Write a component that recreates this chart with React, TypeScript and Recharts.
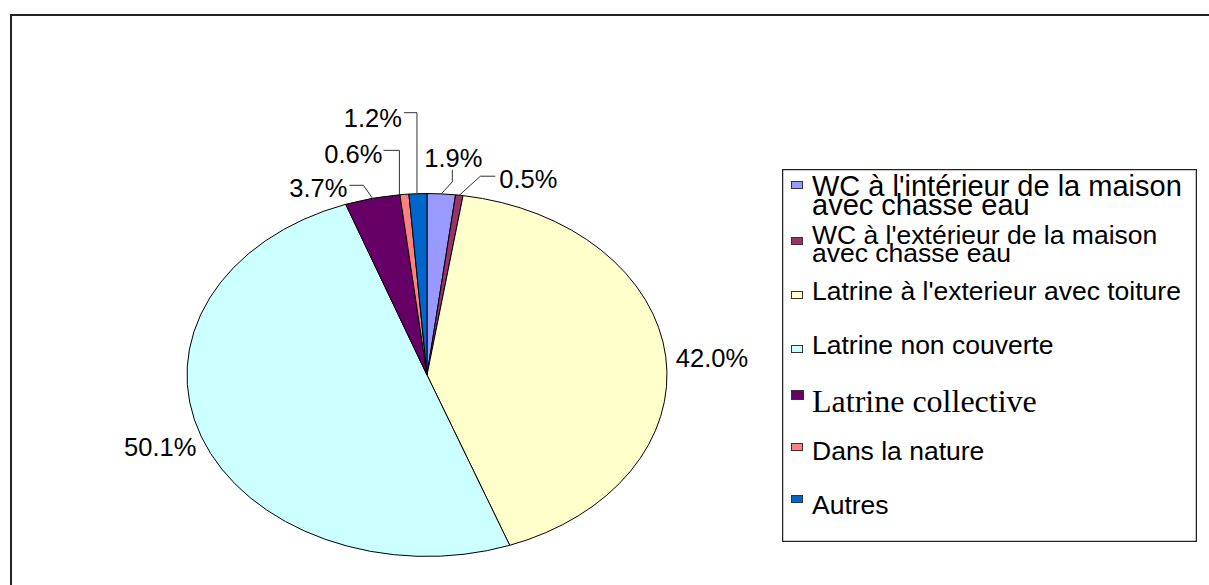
import React from 'react'
import { PieChart, Pie, Cell, Legend } from 'recharts'

// categories, in the order the slices run clockwise from 12 o'clock
const CATEGORIES = [
    "WC à l'intérieur de la maison avec chasse eau",
    "WC à l'extérieur de la maison avec chasse eau",
    "Latrine à l'exterieur avec toiture",
    'Latrine non couverte',
    'Latrine collective',
    'Dans la nature',
    'Autres',
]

const SHARES = [1.9, 0.5, 42.0, 50.1, 3.7, 0.6, 1.2]

const COLORS = ['#9999FF', '#993366', '#FFFFCC', '#CCFFFF', '#660066', '#FF8080', '#0066CC']

const data = CATEGORIES.map((name, i) => ({ name, value: SHARES[i] }))

// pie is drawn as an ellipse
const Y_RATIO = 0.756
const SANS = '"Liberation Sans", Arial, Helvetica, sans-serif'
const SERIF = '"Liberation Serif", "Times New Roman", serif'

const ellipsePoint = (cx: number, cy: number, r: number, deg: number) => {
    const t = (deg * Math.PI) / 180
    return [cx + r * Math.cos(t), cy - r * Y_RATIO * Math.sin(t)]
}

function EllipseSector(props: any) {
    const { cx, cy, outerRadius, startAngle, endAngle, fill } = props
    const [x1, y1] = ellipsePoint(cx, cy, outerRadius, startAngle)
    const [x2, y2] = ellipsePoint(cx, cy, outerRadius, endAngle)
    const large = Math.abs(startAngle - endAngle) > 180 ? 1 : 0
    const sweep = startAngle > endAngle ? 1 : 0
    const d = `M${cx},${cy} L${x1},${y1} A${outerRadius},${outerRadius * Y_RATIO} 0 ${large} ${sweep} ${x2},${y2} Z`
    return <path d={d} fill={fill} stroke="#000" strokeWidth={1} strokeLinejoin="round" />
}

// leader lines / text offsets relative to the slice's edge point
const LABEL_LAYOUT: { path: number[][] | null; dx: number; dy: number; anchor: 'start' | 'middle' | 'end' }[] = [
    { path: [[0, 0], [11, -12], [11, -24]], dx: 12, dy: -27, anchor: 'middle' },
    { path: [[0, 0], [21, -19], [36, -19]], dx: 40, dy: -7, anchor: 'start' },
    { path: null, dx: 10, dy: 10, anchor: 'start' },
    { path: null, dx: -5, dy: 19, anchor: 'end' },
    { path: [[0, 0], [-9, -13], [-23, -13]], dx: -25, dy: -1, anchor: 'end' },
    { path: [[-5, 0], [-5, -44], [-21, -44]], dx: -22, dy: -31, anchor: 'end' },
    { path: [[-1, 0], [-1, -81], [-14, -81]], dx: -16, dy: -67, anchor: 'end' },
]

const renderLabel = (props: any) => {
    const { cx, cy, midAngle, outerRadius, index } = props
    const [ex, ey] = ellipsePoint(cx, cy, outerRadius, midAngle)
    const lay = LABEL_LAYOUT[index]
    const value = SHARES[index]
    return (
        <g key={`lbl-${index}`}>
            {lay.path && (
                <polyline
                    points={lay.path.map(([px, py]) => `${ex + px},${ey + py}`).join(' ')}
                    fill="none"
                    stroke="#333"
                    strokeWidth={1}
                />
            )}
            <text x={ex + lay.dx} y={ey + lay.dy} textAnchor={lay.anchor} fontFamily={SANS} fontSize={25.5} fill="#000">
                {value.toFixed(1)}%
            </text>
        </g>
    )
}

// legend rows: top of swatch, baselines of the text lines (box-relative), font
const LEGEND_ROWS = [
    { sq: 12, base: [27, 46], size: 29, serif: false },
    { sq: 68, base: [75, 93], size: 26.5, serif: false },
    { sq: 122, base: [131], size: 26.5, serif: false },
    { sq: 176, base: [185], size: 26.5, serif: false },
    { sq: 221, base: [243], size: 32, serif: true },
    { sq: 274, base: [291], size: 26.5, serif: false },
    { sq: 326, base: [345], size: 26.5, serif: false },
]

const renderLegend = () => (
    <svg width={415} height={373} style={{ display: 'block' }}>
        <rect x={0.5} y={0.5} width={414} height={372} fill="#fff" stroke="#222" strokeWidth={1.5} />
        {CATEGORIES.map((name, i) => {
            const row = LEGEND_ROWS[i]
            const lines = name.includes('maison ') ? name.split(/(?<=maison) /) : [name]
            return (
                <g key={name}>
                    <rect
                        x={9.5}
                        y={row.sq + 0.5}
                        width={row.serif ? 12 : 11}
                        height={row.serif ? 9 : 7}
                        fill={COLORS[i]}
                        stroke="#333"
                        strokeWidth={1}
                    />
                    {lines.map((line, j) => (
                        <text
                            key={j}
                            x={30}
                            y={row.base[j]}
                            fontFamily={row.serif ? SERIF : SANS}
                            fontSize={row.size}
                            fill="#000"
                        >
                            {line}
                        </text>
                    ))}
                </g>
            )
        })}
    </svg>
)

export default function App() {
    return (
        <div style={{ position: 'absolute', left: 0, top: 0, width: 1209, height: 585, overflow: 'hidden', background: '#fff' }}>
            <div
                style={{
                    position: 'absolute',
                    left: 10,
                    top: 14,
                    width: 1400,
                    height: 800,
                    borderLeft: '2px solid #222',
                    borderTop: '2px solid #222',
                }}
            />
            <div style={{ position: 'absolute', left: 0, top: 0 }}>
                <PieChart width={1209} height={585} margin={{ top: 0, right: 0, bottom: 0, left: 0 }}>
                    <Pie
                        data={data}
                        dataKey="value"
                        nameKey="name"
                        cx={427}
                        cy={375}
                        outerRadius={240}
                        startAngle={90}
                        endAngle={-270}
                        stroke="#000"
                        strokeWidth={1}
                        shape={EllipseSector}
                        activeShape={EllipseSector}
                        label={renderLabel}
                        labelLine={false}
                        isAnimationActive={false}
                    >
                        {data.map((entry, index) => (
                            <Cell key={`cell-${index}`} fill={COLORS[index]} />
                        ))}
                    </Pie>
                    <Legend
                        layout="vertical"
                        align="right"
                        verticalAlign="top"
                        content={renderLegend}
                        wrapperStyle={{ position: 'absolute', left: 782, top: 169, width: 415, height: 373 }}
                    />
                </PieChart>
            </div>
        </div>
    )
}
